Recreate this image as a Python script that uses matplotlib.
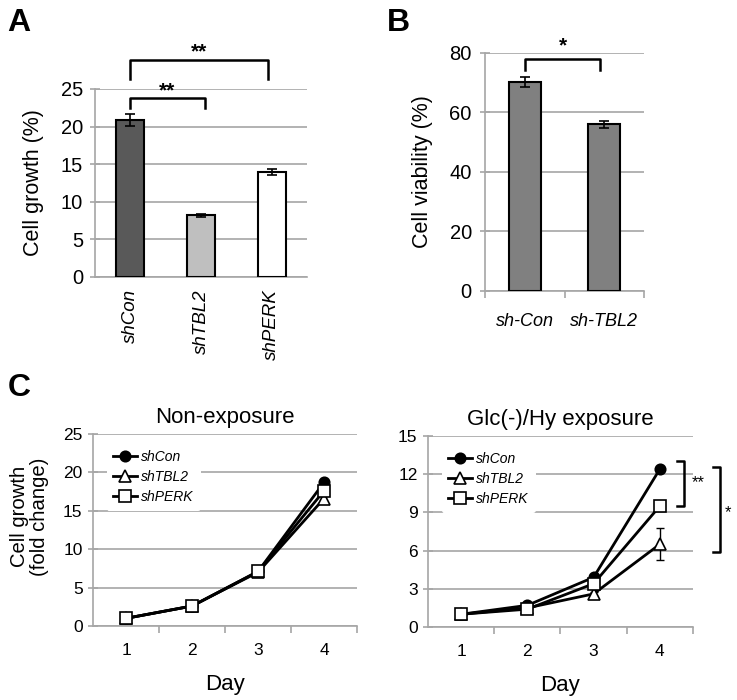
import numpy as np
import matplotlib
matplotlib.use('Agg')
import matplotlib.pyplot as plt

plt.rcParams['font.family'] = ['Liberation Sans', 'DejaVu Sans']

# Panel A verileri
a_groups = ['shCon', 'shTBL2', 'shPERK']
a_values = [20.9, 8.2, 13.9]
a_errors = [0.8, 0.2, 0.4]
a_colors = ['#595959', '#bfbfbf', '#ffffff']
a_yticks = [0, 5, 10, 15, 20, 25]

# Panel B verileri
b_groups = ['sh-Con', 'sh-TBL2']
b_values = [70.2, 56.0]
b_errors = [1.8, 1.3]
b_yticks = [0, 20, 40, 60, 80]

# Panel C verileri
days = [1, 2, 3, 4]
series_names = ['shCon', 'shTBL2', 'shPERK']
non_exp = {
    'shCon': [1.0, 2.6, 7.1, 18.7],
    'shTBL2': [1.0, 2.6, 7.0, 16.6],
    'shPERK': [1.0, 2.6, 7.1, 17.6],
}
non_exp_err = {
    'shCon': [0.05, 0.1, 0.2, 0.3],
    'shTBL2': [0.05, 0.1, 0.2, 0.4],
    'shPERK': [0.05, 0.1, 0.2, 0.3],
}
glc_exp = {
    'shCon': [1.0, 1.7, 3.9, 12.4],
    'shTBL2': [1.0, 1.5, 2.6, 6.5],
    'shPERK': [1.0, 1.4, 3.4, 9.5],
}
glc_exp_err = {
    'shCon': [0.05, 0.1, 0.15, 0.2],
    'shTBL2': [0.05, 0.1, 0.15, 1.25],
    'shPERK': [0.05, 0.1, 0.15, 0.2],
}
markers = {'shCon': ('o', 'black'), 'shTBL2': ('^', 'white'), 'shPERK': ('s', 'white')}

grid_color = '#a6a6a6'

fig = plt.figure(figsize=(7.37, 7.0), dpi=100)


def style_axes(ax):
    for s in ['top', 'right']:
        ax.spines[s].set_visible(False)
    for s in ['left', 'bottom']:
        ax.spines[s].set_color(grid_color)
        ax.spines[s].set_linewidth(1.2)
    ax.yaxis.grid(True, color=grid_color, linewidth=1.2)
    ax.set_axisbelow(True)
    ax.tick_params(axis='both', colors=grid_color, labelcolor='black', width=1.2)
    ax.tick_params(axis='y', direction='inout', length=7)


def bracket(ax, x1, x2, y_top, y_leg, text, ty, fs=15):
    ax.plot([x1, x1, x2, x2], [y_leg, y_top, y_top, y_leg], color='black', lw=1.8, clip_on=False)
    ax.text((x1 + x2) / 2, ty, text, ha='center', va='center', fontsize=fs, fontweight='bold')


# ---------------- Panel A ----------------
ax_a = fig.add_axes([0.1289, 0.6043, 0.2877, 0.2686])
style_axes(ax_a)
xa = np.arange(len(a_groups))
ax_a.bar(xa, a_values, width=0.4, color=a_colors, edgecolor='black', linewidth=1.5, zorder=3)
ax_a.errorbar(xa, a_values, yerr=a_errors, fmt='none', ecolor='black', elinewidth=1.2, capsize=3.5, capthick=1.2, zorder=4)
ax_a.set_xlim(-0.5, 2.5)
ax_a.set_ylim(0, 25)
ax_a.set_yticks(a_yticks)
ax_a.set_xticks(xa)
ax_a.set_xticklabels(a_groups, rotation=90, style='italic', fontsize=13.5)
ax_a.tick_params(axis='x', length=0, pad=9)
ax_a.tick_params(axis='y', labelsize=14.5, pad=5)
ax_a.set_ylabel('Cell growth (%)', fontsize=15.5, labelpad=12)
bracket(ax_a, 0, 1.05, 23.8, 22.5, '**', 24.7)
bracket(ax_a, 0, 1.95, 28.9, 26.3, '**', 29.9)

# ---------------- Panel B ----------------
ax_b = fig.add_axes([0.6581, 0.5843, 0.2157, 0.34])
style_axes(ax_b)
xb = np.arange(len(b_groups))
ax_b.bar(xb, b_values, width=0.4, color='#808080', edgecolor='black', linewidth=1.5, zorder=3)
ax_b.errorbar(xb, b_values, yerr=b_errors, fmt='none', ecolor='black', elinewidth=1.2, capsize=3.5, capthick=1.2, zorder=4)
ax_b.set_xlim(-0.5, 1.5)
ax_b.set_ylim(0, 80)
ax_b.set_yticks(b_yticks)
ax_b.set_xticks([-0.5, 0.5, 1.5], minor=False)
ax_b.set_xticklabels(['', '', ''])
ax_b.set_xticks(xb, minor=True)
ax_b.set_xticklabels(b_groups, minor=True, style='italic', fontsize=13)
ax_b.tick_params(axis='x', which='major', length=5, direction='out')
ax_b.tick_params(axis='x', which='minor', length=0, pad=16)
ax_b.tick_params(axis='y', labelsize=14.5, pad=6)
ax_b.set_ylabel('Cell viability (%)', fontsize=15.5, labelpad=12)
bracket(ax_b, 0, 0.95, 78.0, 74.3, '*', 82.5)


# ---------------- Panel C ----------------
def line_panel(rect, data, errs, ymax, ystep, title):
    ax = fig.add_axes(rect)
    style_axes(ax)
    for name in series_names:
        m, fc = markers[name]
        ax.errorbar(days, data[name], yerr=errs[name], fmt='none', ecolor='black',
                    elinewidth=1, capsize=3, capthick=1, zorder=2)
        ax.plot(days, data[name], color='black', lw=2,
                marker=m, markersize=8 if m != 'o' else 7.5, markerfacecolor=fc,
                markeredgecolor='black', markeredgewidth=1.2, label=name, zorder=3)
    ax.set_xlim(0.5, 4.5)
    ax.set_ylim(0, ymax)
    ax.set_yticks(np.arange(0, ymax + 0.1, ystep))
    ax.set_xticks([1.5, 2.5, 3.5, 4.5])
    ax.set_xticklabels(['', '', '', ''])
    ax.set_xticks(days, minor=True)
    ax.set_xticklabels([str(d) for d in days], minor=True, fontsize=12.5)
    ax.tick_params(axis='x', which='major', length=5)
    ax.tick_params(axis='x', which='minor', length=0, pad=12)
    ax.tick_params(axis='y', labelsize=12.5, pad=4)
    ax.set_xlabel('Day', fontsize=16, labelpad=12)
    ax.set_title(title, fontsize=16, pad=8)
    leg = ax.legend(loc='upper left', bbox_to_anchor=(0.025, 0.99), prop={'style': 'italic', 'size': 10},
                    frameon=True, facecolor='white', edgecolor='none', framealpha=1,
                    handlelength=1.7, handletextpad=0.3, labelspacing=0.45, borderpad=0.5)
    leg.set_zorder(5)
    return ax


ax_c1 = line_panel([0.1262, 0.1057, 0.3582, 0.2743], non_exp, non_exp_err, 25, 5, 'Non-exposure')
ax_c1.set_ylabel('Cell growth\n(fold change)', fontsize=14.6, linespacing=1.1)
ax_c1.yaxis.set_label_coords(-0.165, 0.57)

ax_c2 = line_panel([0.5807, 0.1043, 0.3596, 0.2729], glc_exp, glc_exp_err, 15, 3, 'Glc(-)/Hy exposure')
# anlamlılık parantezleri
ax_c2.plot([4.26, 4.36, 4.36, 4.26], [13.0, 13.0, 9.5, 9.5], color='black', lw=1.8, clip_on=False)
ax_c2.text(4.58, 11.3, '**', ha='center', va='center', fontsize=12)
ax_c2.plot([4.80, 4.91, 4.91, 4.80], [12.6, 12.6, 5.9, 5.9], color='black', lw=1.8, clip_on=False)
ax_c2.text(5.03, 9.0, '*', ha='center', va='center', fontsize=12)

# Panel harfleri
fig.text(0.010, 0.988, 'A', fontsize=23, fontweight='bold', va='top')
fig.text(0.525, 0.988, 'B', fontsize=23, fontweight='bold', va='top')
fig.text(0.010, 0.467, 'C', fontsize=23, fontweight='bold', va='top')

fig.savefig('out.png', dpi=100)
